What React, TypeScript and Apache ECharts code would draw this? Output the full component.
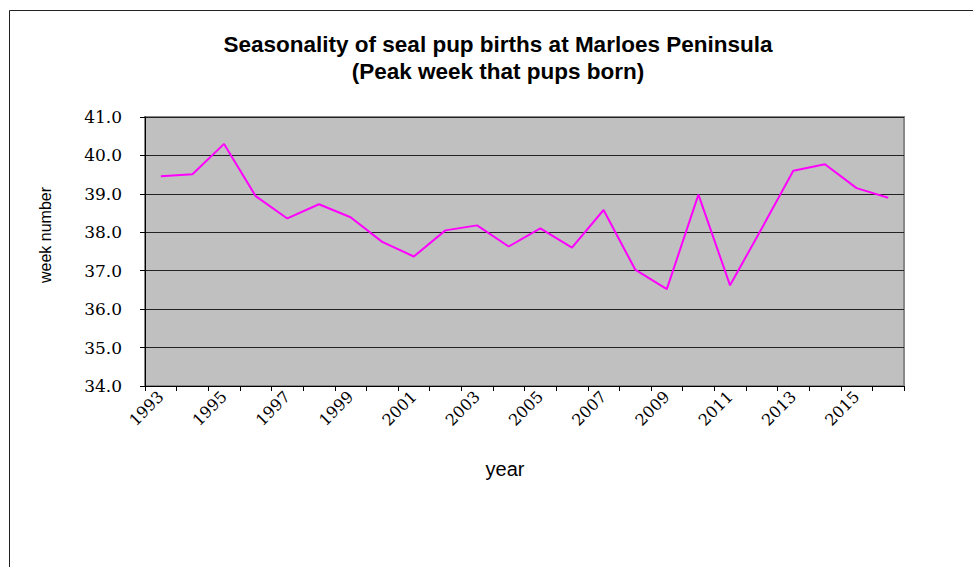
import React, { useEffect, useRef } from "react";
import * as echarts from "echarts";

const years = ["1993","1994","1995","1996","1997","1998","1999","2000","2001","2002","2003","2004","2005","2006","2007","2008","2009","2010","2011","2012","2013","2014","2015","2016"];
const peakWeek = [39.46, 39.51, 40.30, 38.94, 38.36, 38.73, 38.39, 37.75, 37.37, 38.05, 38.18, 37.63, 38.10, 37.60, 38.58, 37.03, 36.52, 38.98, 36.62, 38.10, 39.60, 39.77, 39.15, 38.90];
const titleText = "Seasonality of seal pup births at Marloes Peninsula\n(Peak week that pups born)";
const xAxisTitle = "year";
const yAxisTitle = "week number";

const SANS = "Liberation Sans";
const SERIF = "DejaVu Serif";

export default function App() {
  const ref = useRef<HTMLDivElement>(null);
  useEffect(() => {
    if (!ref.current) return;
    const chart = echarts.init(ref.current, undefined, { renderer: "svg" });
    chart.setOption({
      animation: false,
      backgroundColor: "#ffffff",
      title: {
        text: titleText,
        left: 493,
        textAlign: "center",
        top: 26,
        textStyle: {
          fontFamily: SANS,
          fontWeight: "bold",
          fontSize: 22.5,
          lineHeight: 27,
          color: "#000",
        },
      },
      graphic: [
        {
          type: "rect",
          shape: { x: 9.5, y: 10.5, width: 1000, height: 700 },
          style: { fill: "none", stroke: "#222", lineWidth: 1 },
          silent: true,
        },
        {
          type: "text",
          x: 45,
          y: 235,
          rotation: Math.PI / 2,
          style: {
            text: yAxisTitle,
            fontFamily: SANS,
            fontSize: 16,
            fill: "#000",
            align: "center",
            verticalAlign: "middle",
          },
        },
        {
          type: "text",
          x: 505,
          y: 469,
          style: {
            text: xAxisTitle,
            fontFamily: SANS,
            fontSize: 20,
            fill: "#000",
            align: "center",
            verticalAlign: "middle",
          },
        },
      ],
      grid: {
        left: 145,
        right: 69,
        top: 117,
        bottom: 181,
        show: true,
        backgroundColor: "#c0c0c0",
        borderColor: "#888",
        borderWidth: 2,
      },
      xAxis: {
        type: "category",
        data: years,
        boundaryGap: true,
        axisLine: { lineStyle: { color: "#000", width: 1 } },
        axisTick: { show: true, interval: 0, length: 5, lineStyle: { color: "#000" } },
        axisLabel: {
          interval: 1,
          rotate: 45,
          margin: 8,
          fontFamily: SERIF,
          fontSize: 16,
          color: "#000",
        },
        splitLine: { show: false },
      },
      yAxis: {
        type: "value",
        min: 34,
        max: 41,
        interval: 1,
        axisLine: { show: true, lineStyle: { color: "#000", width: 1 } },
        axisTick: { show: true, length: 5, lineStyle: { color: "#000" } },
        axisLabel: {
          margin: 23,
          formatter: (v: number) => v.toFixed(1),
          fontFamily: SERIF,
          fontSize: 17,
          color: "#000",
        },
        splitLine: { show: true, lineStyle: { color: "#222", width: 1 } },
      },
      series: [
        {
          type: "line",
          data: peakWeek,
          symbol: "none",
          lineStyle: { color: "#ff00ff", width: 2 },
        },
      ],
    });
    return () => chart.dispose();
  }, []);
  return (
    <div
      ref={ref}
      style={{ position: "fixed", left: 0, top: 0, width: 973, height: 567 }}
    />
  );
}
